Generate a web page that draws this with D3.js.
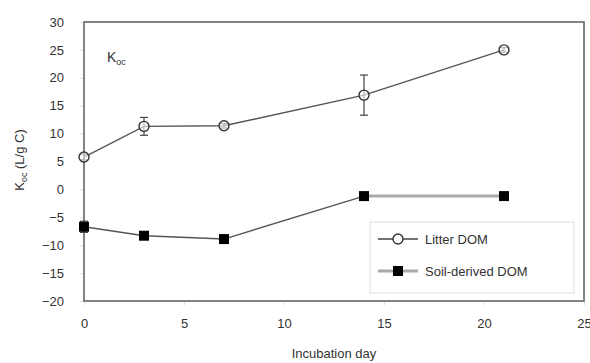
<!DOCTYPE html>
<html>
<head>
<meta charset="utf-8">
<script src="https://cdn.jsdelivr.net/npm/d3@7"></script>
<style>
  body { margin: 0; background: #fff; }
  svg text { font-family: "Liberation Sans", Arial, sans-serif; fill: #333; }
</style>
</head>
<body>
<div id="chart"></div>
<script>
var width = 590, height = 363;
var margin = { top: 22, right: 6, bottom: 62, left: 84 };

// data
var days       = [0, 3, 7, 14, 21];
var litter     = [5.8, 11.3, 11.4, 16.9, 25.0];
var litterErr  = [0.5, 1.6, 0.4, 3.6, 0.4];
var soil       = [-6.7, -8.3, -8.9, -1.2, -1.2];
var soilErr    = [1.0, 0.4, 0.4, 0.4, 0.4];
var xTicks     = [0, 5, 10, 15, 20, 25];
var yTicks     = [-20, -15, -10, -5, 0, 5, 10, 15, 20, 25, 30];

var svg = d3.select("#chart").append("svg")
    .attr("width", width)
    .attr("height", height);

var x = d3.scaleLinear().domain([0, 25]).range([margin.left, width - margin.right]);
var y = d3.scaleLinear().domain([-20, 30]).range([height - margin.bottom, margin.top]);

// axes
var xAxis = svg.append("g")
    .attr("transform", "translate(0," + y(-20) + ")")
    .call(d3.axisBottom(x).tickValues(xTicks).tickSize(4).tickPadding(14));
var yAxis = svg.append("g")
    .attr("transform", "translate(" + x(0) + ",0)")
    .call(d3.axisLeft(y).tickValues(yTicks).tickSize(4).tickPadding(16));

[xAxis, yAxis].forEach(function (g) {
    g.select(".domain").remove();
    g.selectAll(".tick line").attr("stroke", "#ddd");
    g.selectAll(".tick text").style("font-size", "13px").attr("fill", "#333");
});

// plot frame
svg.append("rect")
    .attr("x", x(0)).attr("y", y(30))
    .attr("width", x(25) - x(0)).attr("height", y(-20) - y(30))
    .attr("fill", "none")
    .attr("stroke", "#666")
    .attr("stroke-width", 1.6);

// lines
var line = d3.line()
    .x(function (d) { return x(d.day); })
    .y(function (d) { return y(d.v); });

function rows(vals, errs) {
    return days.map(function (d, i) { return { day: d, v: vals[i], e: errs[i] }; });
}
var litterRows = rows(litter, litterErr);
var soilRows = rows(soil, soilErr);

svg.append("path")
    .datum(litterRows)
    .attr("d", line)
    .attr("fill", "none")
    .attr("stroke", "#555")
    .attr("stroke-width", 1.4);

svg.append("path")
    .datum(soilRows.slice(0, 4))
    .attr("d", line)
    .attr("fill", "none")
    .attr("stroke", "#555")
    .attr("stroke-width", 1.4);

svg.append("path")
    .datum(soilRows.slice(3))
    .attr("d", line)
    .attr("fill", "none")
    .attr("stroke", "#aaa")
    .attr("stroke-width", 3);

// error bars
function errorBars(data) {
    var g = svg.append("g").attr("stroke", "#444").attr("stroke-width", 1.2);
    data.forEach(function (d) {
        var cx = x(d.day);
        g.append("line").attr("x1", cx).attr("x2", cx).attr("y1", y(d.v - d.e)).attr("y2", y(d.v + d.e));
        g.append("line").attr("x1", cx - 4).attr("x2", cx + 4).attr("y1", y(d.v - d.e)).attr("y2", y(d.v - d.e));
        g.append("line").attr("x1", cx - 4).attr("x2", cx + 4).attr("y1", y(d.v + d.e)).attr("y2", y(d.v + d.e));
    });
}
errorBars(litterRows);
errorBars(soilRows);

// markers
svg.append("g").selectAll("circle")
    .data(litterRows)
    .enter().append("circle")
    .attr("cx", function (d) { return x(d.day); })
    .attr("cy", function (d) { return y(d.v); })
    .attr("r", 5)
    .attr("fill", "#fff")
    .attr("fill-opacity", 0.6)
    .attr("stroke", "#333")
    .attr("stroke-width", 1.4);

svg.append("g").selectAll("rect")
    .data(soilRows)
    .enter().append("rect")
    .attr("x", function (d) { return x(d.day) - 5; })
    .attr("y", function (d) { return y(d.v) - 5; })
    .attr("width", 10).attr("height", 10)
    .attr("fill", "#000");

// Koc label inside plot
var lab = svg.append("text")
    .attr("x", 107).attr("y", 62)
    .style("font-size", "14px");
lab.append("tspan").text("K");
lab.append("tspan").attr("dy", 3).style("font-size", "9px").text("oc");

// y axis title
var yt = svg.append("text")
    .attr("transform", "translate(24," + 160 + ") rotate(-90)")
    .attr("text-anchor", "middle")
    .style("font-size", "13px");
yt.append("tspan").text("K");
yt.append("tspan").attr("dy", 3).style("font-size", "9px").text("oc");
yt.append("tspan").attr("dy", -3).text(" (L/g C)");

// x axis title
svg.append("text")
    .attr("x", 334).attr("y", 358)
    .attr("text-anchor", "middle")
    .style("font-size", "13px")
    .text("Incubation day");

// legend
var lg = svg.append("g");
lg.append("rect")
    .attr("x", 370).attr("y", 222)
    .attr("width", 204).attr("height", 71)
    .attr("fill", "#fff")
    .attr("stroke", "#ddd");

var items = [
    { name: "Litter DOM", y: 239, type: "circle", stroke: "#444", w: 1.4 },
    { name: "Soil-derived DOM", y: 271, type: "square", stroke: "#aaa", w: 3 }
];
items.forEach(function (it) {
    lg.append("line")
        .attr("x1", 378).attr("x2", 418)
        .attr("y1", it.y).attr("y2", it.y)
        .attr("stroke", it.stroke).attr("stroke-width", it.w);
    if (it.type === "circle") {
        lg.append("circle").attr("cx", 398).attr("cy", it.y).attr("r", 5)
            .attr("fill", "#fff").attr("stroke", "#333").attr("stroke-width", 1.4);
    } else {
        lg.append("rect").attr("x", 393).attr("y", it.y - 5).attr("width", 10).attr("height", 10)
            .attr("fill", "#000");
    }
    lg.append("text")
        .attr("x", 425).attr("y", it.y + 5)
        .style("font-size", "13px")
        .text(it.name);
});
</script>
</body>
</html>
